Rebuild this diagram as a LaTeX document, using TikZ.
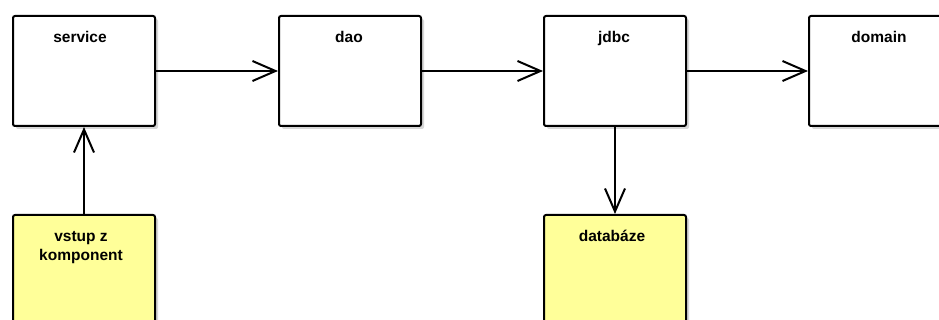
\documentclass[tikz,border=0pt]{standalone}
\usepackage{fontspec}
\setmainfont{Liberation Sans}
\usetikzlibrary{arrows.meta,shadows}
\definecolor{noteyellow}{RGB}{255,255,153}
\definecolor{shadowgray}{RGB}{215,215,215}
\begin{document}
\begin{tikzpicture}[x=1pt,y=-1pt,
  block/.style={draw=black, line width=2pt, rounded corners=2pt,
    minimum width=142pt, minimum height=110pt, anchor=north west, inner sep=0pt,
    drop shadow={shadow xshift=3pt, shadow yshift=-3pt, fill=shadowgray, opacity=1}},
  plainblock/.style={block, fill=white},
  yellowblock/.style={block, fill=noteyellow, minimum height=130pt},
  lbl/.style={font=\fontsize{15.5}{19}\selectfont\bfseries, inner sep=0pt, anchor=base, align=center},
  link/.style={draw=black, line width=2pt, -{Straight Barb[length=23pt, width=20pt, line width=2pt]}}]
\useasboundingbox (0,0) rectangle (939,320);
\clip (0,0) rectangle (939,320);
\fill[white] (0,0) rectangle (939,320);

% layer boxes
\node[plainblock] (service) at (12,15) {};
\node[plainblock] (dao) at (278,15) {};
\node[plainblock] (jdbc) at (543,15) {};
\node[plainblock] (domain) at (808,15) {};
% external inputs / storage
\node[yellowblock] (vstup) at (12,214) {};
\node[yellowblock] (db) at (543,214) {};

% titles
\node[lbl] (serviceL) at (80,43) {service};
\node[lbl] (daoL) at (349,43) {dao};
\node[lbl] (jdbcL) at (614,43) {jdbc};
\node[lbl] (domainL) at (879,43) {domain};
\node[lbl] (vstupL) at (81,261) {vstup z\\komponent};
\node[lbl] (dbL) at (612,242) {databáze};

% dependencies
\draw[link] (service.east) -- (dao.west);
\draw[link] (dao.east) -- (jdbc.west);
\draw[link] (jdbc.east) -- (domain.west);
\draw[link] (vstup.north) -- (service.south);
\draw[link] (jdbc.south) -- (db.north);
\end{tikzpicture}
\end{document}
